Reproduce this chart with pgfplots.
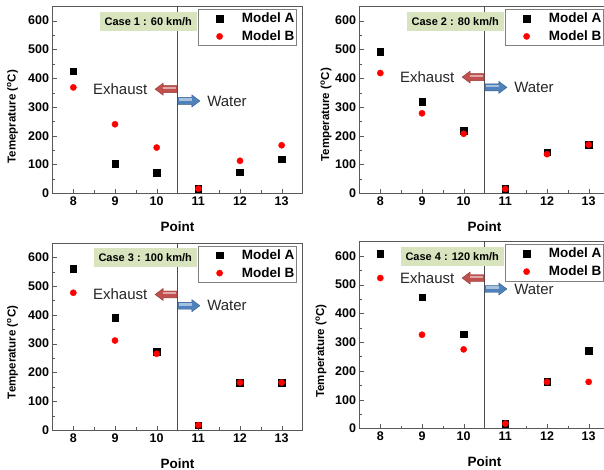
\documentclass[border=0pt]{standalone}
\usepackage{fontspec}
\setmainfont{Liberation Sans}
\usepackage{pgfplots}
\pgfplotsset{compat=1.18}

\definecolor{casegreen}{HTML}{D7E4BD}
\definecolor{arrred}{HTML}{C0504D}
\definecolor{arrredd}{HTML}{943634}
\definecolor{arrblue}{HTML}{4F81BD}
\definecolor{arrblued}{HTML}{385D8A}

\pgfplotsset{
  panel/.style={
    scale only axis, width=250pt, height=187pt,
    xmin=7.5, xmax=13.5, ymin=0, ymax=650,
    xtick={8,...,13}, ytick={0,100,...,600},
    minor x tick num=1, minor y tick num=1,
    tick pos=left,
    axis line style={gray!70!black},
    tick style={gray!70!black},
    /pgf/number format/assume math mode=true,
    tick label style={font=\bfseries\fontsize{12.5}{14}\selectfont},
    label style={font=\bfseries\fontsize{13.5}{15}\selectfont},
    ylabel style={font=\bfseries\fontsize{11.5}{13}\selectfont},
    xlabel={Point},
    xlabel style={at={(axis description cs:0.5,-0.18)}, anchor=center},
    legend image code/.code={%
      \path (-21pt,0pt) (20pt,0pt);
      \draw[##1] plot coordinates {(0pt,0pt)};},
    legend style={at={(1,1)}, anchor=north east, xshift=-6pt, yshift=-3pt,
      draw=gray, font=\bfseries\fontsize{13.5}{15}\selectfont,
      inner xsep=0pt, inner ysep=1.5pt, row sep=2.5pt, cells={anchor=west}},
  },
  ma/.style={only marks, mark=square*, mark size=3.3pt, black},
  mb/.style={only marks, mark=*, mark size=3.1pt, red, mark options={draw=red, fill=red}},
}

% divider line, case box, arrows and their labels
\newcommand{\divider}[3]{%
  \draw[gray!60!black] (axis cs:10.5,0) -- (axis cs:10.5,650);
  \node[fill=casegreen, anchor=east, minimum height=19pt, inner xsep=5pt,
    font=\bfseries\fontsize{11}{12}\selectfont] at (axis cs:10.97,598) {#1};
  \node[anchor=west, inner sep=0pt, text=black!85, font=\fontsize{15}{17}\selectfont]
    at (axis cs:8.47,#2) {Exhaust};
  \node[anchor=west, inner sep=0pt, text=black!85, font=\fontsize{15}{17}\selectfont]
    at (axis cs:11.21,#3) {Water};
  \filldraw[draw=arrredd, fill=arrred] (axis cs:10.49,#2)
    ++(canvas cs:x=0pt,y=3.5pt) -- ++(canvas cs:x=-14pt,y=0pt)
    -- ++(canvas cs:x=0pt,y=2.5pt) -- ++(canvas cs:x=-8pt,y=-6pt)
    -- ++(canvas cs:x=8pt,y=-6pt) -- ++(canvas cs:x=0pt,y=2.5pt)
    -- ++(canvas cs:x=14pt,y=0pt) -- cycle;
  \fill[arrred!50!white] (axis cs:10.49,#2)
    ++(canvas cs:x=-1pt,y=2.5pt) -- ++(canvas cs:x=-13pt,y=0pt)
    -- ++(canvas cs:x=0pt,y=-2.5pt) -- ++(canvas cs:x=13pt,y=0pt) -- cycle;
  \filldraw[draw=arrblued, fill=arrblue] (axis cs:10.51,#3)
    ++(canvas cs:x=0pt,y=3.5pt) -- ++(canvas cs:x=14pt,y=0pt)
    -- ++(canvas cs:x=0pt,y=2.5pt) -- ++(canvas cs:x=8pt,y=-6pt)
    -- ++(canvas cs:x=-8pt,y=-6pt) -- ++(canvas cs:x=0pt,y=2.5pt)
    -- ++(canvas cs:x=-14pt,y=0pt) -- cycle;
  \fill[arrblue!50!white] (axis cs:10.51,#3)
    ++(canvas cs:x=1pt,y=2.5pt) -- ++(canvas cs:x=13pt,y=0pt)
    -- ++(canvas cs:x=0pt,y=-2.5pt) -- ++(canvas cs:x=-13pt,y=0pt) -- cycle;
}

\begin{document}
\begin{tikzpicture}
\path[use as bounding box] (0,0) rectangle (604pt,470pt);
\begin{scope}[overlay]

% Case 1
\begin{axis}[panel, at={(52.5pt,276.7pt)}, anchor=south west,
  ylabel={Temeprature (\textsuperscript{o}C)},
  ylabel style={at={(axis description cs:-0.16,0.41)}, anchor=center}]
\divider{Case 1 : 60 km/h}{362}{321}
\addplot[ma] coordinates {(8,424) (9,102) (10,71) (11,16) (12,73) (13,118)};
\addplot[mb] coordinates {(8,368) (9,240) (10,159) (11,16) (12,113) (13,167)};
\legend{Model A, Model B}
\end{axis}

% Case 2
\begin{axis}[panel, at={(359.5pt,276.7pt)}, anchor=south west,
  ylabel={Temperature (\textsuperscript{o}C)},
  ylabel style={at={(axis description cs:-0.134,0.42)}, anchor=center}]
\divider{Case 2 : 80 km/h}{404}{368}
\addplot[ma] coordinates {(8,493) (9,319) (10,217) (11,15) (12,143) (13,169)};
\addplot[mb] coordinates {(8,418) (9,278) (10,207) (11,15) (12,136) (13,169)};
\legend{Model A, Model B}
\end{axis}

% Case 3
\begin{axis}[panel, at={(52.5pt,40pt)}, anchor=south west,
  ylabel={Temperature (\textsuperscript{o}C)},
  ylabel style={at={(axis description cs:-0.16,0.415)}, anchor=center}]
\divider{Case 3 : 100 km/h}{471}{432}
\addplot[ma] coordinates {(8,560) (9,390) (10,272) (11,17) (12,165) (13,165)};
\addplot[mb] coordinates {(8,477) (9,311) (10,265) (11,17) (12,165) (13,165)};
\legend{Model A, Model B}
\end{axis}

% Case 4
\begin{axis}[panel, at={(359.5pt,41.5pt)}, anchor=south west,
  ylabel={Temperature (\textsuperscript{o}C)},
  ylabel style={at={(axis description cs:-0.154,0.415)}, anchor=center}]
\divider{Case 4 : 120 km/h}{523}{485}
\addplot[ma] coordinates {(8,608) (9,456) (10,328) (11,17) (12,162) (13,271)};
\addplot[mb] coordinates {(8,523) (9,326) (10,275) (11,17) (12,162) (13,162)};
\legend{Model A, Model B}
\end{axis}

\end{scope}
\end{tikzpicture}
\end{document}
